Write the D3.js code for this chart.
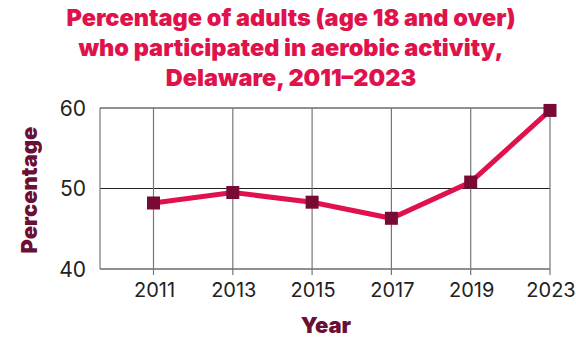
<html>
<head>
<style>
  body { margin: 0; background: #fff; }
  text { font-family: "Inter", "Noto Sans", sans-serif; }
</style>
</head>
<body>
<div id="chart"></div>
<script src="https://d3js.org/d3.v7.min.js"></script>
<script>
var years = ["2011", "2013", "2015", "2017", "2019", "2023"];
var values = [48.2, 49.5, 48.3, 46.3, 50.8, 59.7];
var yTicks = [40, 50, 60];
var titleLines = ["Percentage of adults (age 18 and over)",
                  "who participated in aerobic activity,",
                  "Delaware, 2011\u20132023"];

var W = 576, H = 337;
var mLeft = 100, mRight = 550, mTop = 108, mBottom = 269;

var svg = d3.select("#chart").append("svg")
  .attr("width", W).attr("height", H);

var x = d3.scalePoint().domain(years).range([153.5, mRight]);
var y = d3.scaleLinear().domain([40, 60]).range([mBottom, mTop]);

// title
svg.append("g").selectAll("text")
  .data(titleLines).enter().append("text")
  .attr("x", 291)
  .attr("y", function(d, i) { return 26 + i * 30; })
  .attr("text-anchor", "middle")
  .attr("font-size", 23.5)
  .attr("font-weight", 900)
  .attr("fill", "#e0124b")
  .text(function(d) { return d; });

// horizontal grid
svg.append("g").selectAll("line")
  .data(yTicks).enter().append("line")
  .attr("x1", mLeft).attr("x2", mRight)
  .attr("y1", function(d) { return y(d); })
  .attr("y2", function(d) { return y(d); })
  .attr("stroke", "#222").attr("stroke-width", 1.2);

// vertical grid
svg.append("g").selectAll("line")
  .data(years).enter().append("line")
  .attr("x1", function(d) { return x(d); })
  .attr("x2", function(d) { return x(d); })
  .attr("y1", mTop).attr("y2", mBottom + 6)
  .attr("stroke", "#777").attr("stroke-width", 1.2);

// left border
svg.append("line")
  .attr("x1", mLeft).attr("x2", mLeft)
  .attr("y1", mTop).attr("y2", mBottom)
  .attr("stroke", "#777").attr("stroke-width", 1.2);

// y tick labels
svg.append("g").selectAll("text")
  .data(yTicks).enter().append("text")
  .attr("x", mLeft - 14)
  .attr("y", function(d) { return y(d); })
  .attr("dy", "0.36em")
  .attr("text-anchor", "end")
  .attr("font-size", 21)
  .attr("fill", "#222")
  .text(function(d) { return d; });

// x tick labels
svg.append("g").selectAll("text")
  .data(years).enter().append("text")
  .attr("x", function(d) { return x(d) + 1; })
  .attr("y", mBottom + 28)
  .attr("text-anchor", "middle")
  .attr("font-size", 20)
  .attr("fill", "#222")
  .text(function(d) { return d; });

// axis titles
svg.append("text")
  .attr("transform", "translate(37,190) rotate(-90)")
  .attr("text-anchor", "middle")
  .attr("font-size", 22)
  .attr("font-weight", 900)
  .attr("fill", "#6b0f35")
  .text("Percentage");

svg.append("text")
  .attr("x", 326).attr("y", 333)
  .attr("text-anchor", "middle")
  .attr("font-size", 22)
  .attr("font-weight", 900)
  .attr("fill", "#6b0f35")
  .text("Year");

// line
var pts = years.map(function(d, i) { return [d, values[i]]; });
svg.append("path")
  .datum(pts)
  .attr("fill", "none")
  .attr("stroke", "#e0124b")
  .attr("stroke-width", 5)
  .attr("d", d3.line()
    .x(function(d) { return x(d[0]); })
    .y(function(d) { return y(d[1]); }));

// markers
var s = 13;
svg.append("g").selectAll("rect")
  .data(pts).enter().append("rect")
  .attr("x", function(d) { return x(d[0]) - s / 2; })
  .attr("y", function(d) { return y(d[1]) - s / 2; })
  .attr("width", s).attr("height", s)
  .attr("fill", "#780a35");
</script>
</body>
</html>
